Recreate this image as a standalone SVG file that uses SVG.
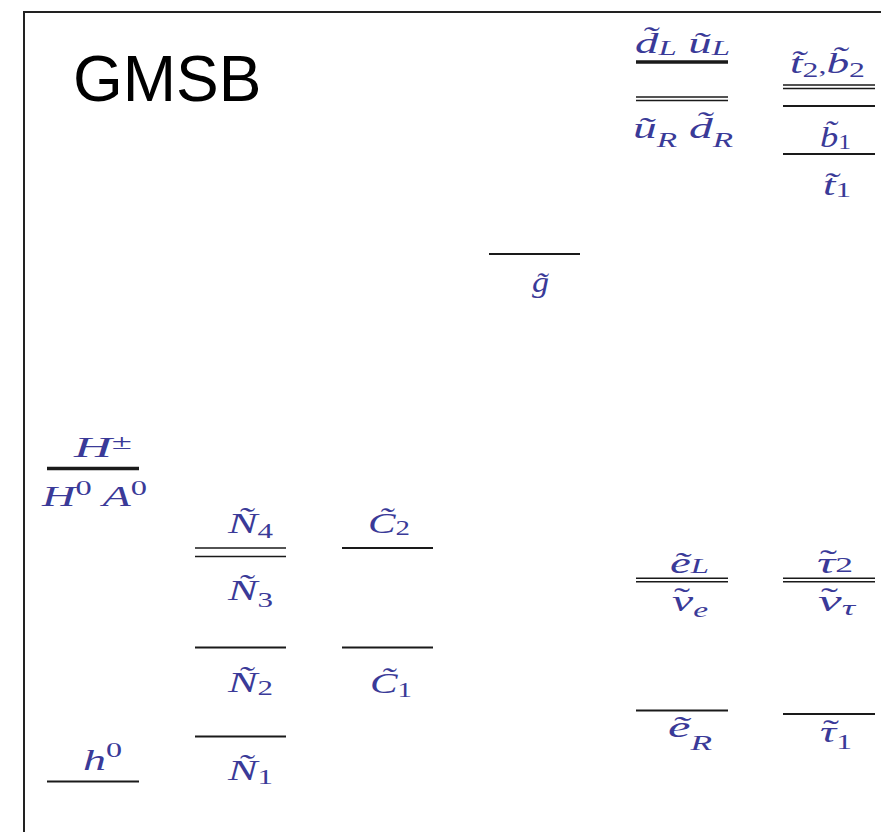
<svg xmlns="http://www.w3.org/2000/svg" width="881" height="832" viewBox="0 0 881 832">
<style>
.lv{stroke:#1a1a1a;stroke-width:2;fill:none}
.thk{stroke:#1a1a1a;stroke-width:3.5;fill:none}
.dbl{stroke:#1a1a1a;stroke-width:1.6;fill:none}
.m{font-family:"Liberation Serif","DejaVu Serif",serif;font-style:italic;font-size:30px;fill:#3a3a98}
.s{font-size:21px;font-style:normal}
.si{font-size:21px;font-style:italic}
.tl{font-family:"Liberation Serif","DejaVu Serif",serif;font-size:30px;fill:#3a3a98}
</style>
<rect width="881" height="832" fill="#fff"/>
<g id="frame"><path d="M24,832 V12 H881" stroke="#222" stroke-width="2" fill="none"/>
<text x="73" y="101" font-family="Liberation Sans,Arial,sans-serif" font-size="64" fill="#000">GMSB</text></g>
<g id="connectors"></g>
<g id="Hpm"><line class="thk" x1="47" y1="468.5" x2="139" y2="468.5"/>
<text class="m" x="74" y="457" textLength="58" lengthAdjust="spacingAndGlyphs">H<tspan class="s" dy="-8">±</tspan></text>
<text class="m" x="42" y="506" textLength="105" lengthAdjust="spacingAndGlyphs">H<tspan class="s" dy="-11">0</tspan><tspan dy="11"> A</tspan><tspan class="s" dy="-11">0</tspan></text></g>
<g id="h0"><line class="lv" x1="47" y1="781.5" x2="139" y2="781.5"/>
<text class="m" x="83" y="770" textLength="39" lengthAdjust="spacingAndGlyphs">h<tspan class="s" dy="-13">0</tspan></text></g>
<g id="N34"><line class="dbl" x1="195" y1="548" x2="286" y2="548"/><line class="dbl" x1="195" y1="556.5" x2="286" y2="556.5"/>
<text class="m" x="228" y="533" textLength="45" lengthAdjust="spacingAndGlyphs">Ñ<tspan class="s" dy="5">4</tspan></text>
<text class="m" x="228" y="600" textLength="45" lengthAdjust="spacingAndGlyphs">Ñ<tspan class="s" dy="7">3</tspan></text></g>
<g id="N2"><line class="lv" x1="195" y1="647.5" x2="286" y2="647.5"/>
<text class="m" x="228" y="692" textLength="45" lengthAdjust="spacingAndGlyphs">Ñ<tspan class="s" dy="3">2</tspan></text></g>
<g id="N1"><line class="lv" x1="195" y1="736.5" x2="286" y2="736.5"/>
<text class="m" x="228" y="780" textLength="45" lengthAdjust="spacingAndGlyphs">Ñ<tspan class="s" dy="4">1</tspan></text></g>
<g id="C2"><line class="lv" x1="342" y1="548" x2="433" y2="548"/>
<text class="m" x="368" y="533" textLength="42" lengthAdjust="spacingAndGlyphs">C̃<tspan class="s" dy="2">2</tspan></text></g>
<g id="C1"><line class="lv" x1="342" y1="647.5" x2="433" y2="647.5"/>
<text class="m" x="370" y="693" textLength="42" lengthAdjust="spacingAndGlyphs">C̃<tspan class="s" dy="4">1</tspan></text></g>
<g id="gluino"><line class="lv" x1="489" y1="254" x2="580" y2="254"/>
<text class="m" x="532" y="292" textLength="17" lengthAdjust="spacingAndGlyphs">g̃</text></g>
<g id="sqL"><line class="thk" x1="636" y1="62" x2="728" y2="62"/>
<text class="m" x="635" y="53" textLength="95" lengthAdjust="spacingAndGlyphs">d̃<tspan class="si" dy="2">L</tspan><tspan dy="-2"> ũ</tspan><tspan class="si" dy="2">L</tspan></text></g>
<g id="sqR"><line class="dbl" x1="636" y1="97" x2="728" y2="97"/><line class="dbl" x1="636" y1="100.5" x2="728" y2="100.5"/>
<text class="m" x="633" y="138" textLength="100" lengthAdjust="spacingAndGlyphs">ũ<tspan class="si" dy="9">R</tspan><tspan dy="-9"> d̃</tspan><tspan class="si" dy="9">R</tspan></text></g>
<g id="t2b2"><line class="dbl" x1="783" y1="85" x2="875" y2="85"/><line class="dbl" x1="783" y1="88.5" x2="875" y2="88.5"/>
<text class="m" x="790" y="73" textLength="75" lengthAdjust="spacingAndGlyphs">t̃<tspan class="s" dy="4">2</tspan><tspan class="s" dy="-4">,</tspan>b̃<tspan class="s" dy="4">2</tspan></text></g>
<g id="b1"><line class="lv" x1="783" y1="106" x2="875" y2="106"/>
<text class="m" x="820" y="147" textLength="31" lengthAdjust="spacingAndGlyphs">b̃<tspan class="s" dy="2">1</tspan></text></g>
<g id="t1"><line class="lv" x1="783" y1="154" x2="875" y2="154"/>
<text class="m" x="823" y="195" textLength="28" lengthAdjust="spacingAndGlyphs">t̃<tspan class="s" dy="2">1</tspan></text></g>
<g id="eL"><line class="dbl" x1="636" y1="578.3" x2="728" y2="578.3"/><line class="dbl" x1="636" y1="581.7" x2="728" y2="581.7"/>
<text class="m" x="670" y="573" textLength="39" lengthAdjust="spacingAndGlyphs">ẽ<tspan class="si">L</tspan></text>
<text class="m" x="672" y="611" textLength="36" lengthAdjust="spacingAndGlyphs">ν<tspan class="si" dy="6">e</tspan></text>
<text class="tl" x="674" y="608" textLength="16" lengthAdjust="spacingAndGlyphs">˜</text></g>
<g id="tau2"><line class="dbl" x1="783" y1="578.3" x2="875" y2="578.3"/><line class="dbl" x1="783" y1="581.7" x2="875" y2="581.7"/>
<text class="m" x="817" y="573" textLength="36" lengthAdjust="spacingAndGlyphs">τ<tspan class="s" dy="-1">2</tspan></text>
<text class="tl" x="820" y="570" textLength="17" lengthAdjust="spacingAndGlyphs">˜</text>
<text class="m" x="818" y="611" textLength="37" lengthAdjust="spacingAndGlyphs">ν<tspan class="si" dy="4">τ</tspan></text>
<text class="tl" x="821" y="608" textLength="17" lengthAdjust="spacingAndGlyphs">˜</text></g>
<g id="eR"><line class="lv" x1="636" y1="710.5" x2="728" y2="710.5"/>
<text class="m" x="668" y="737" textLength="44" lengthAdjust="spacingAndGlyphs">ẽ<tspan class="si" dy="13">R</tspan></text></g>
<g id="tau1"><line class="lv" x1="783" y1="714" x2="875" y2="714"/>
<text class="m" x="820" y="742" textLength="32" lengthAdjust="spacingAndGlyphs">τ<tspan class="s" dy="7">1</tspan></text>
<text class="tl" x="823" y="740" textLength="16" lengthAdjust="spacingAndGlyphs">˜</text></g>
</svg>
